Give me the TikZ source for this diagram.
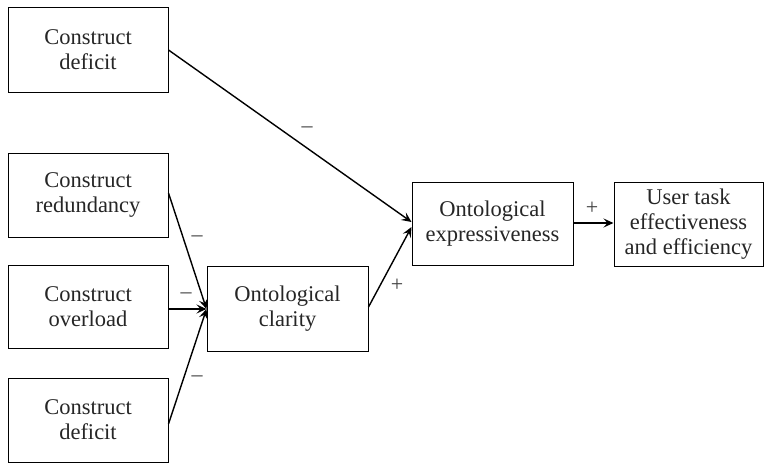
\documentclass[tikz,border=0pt]{standalone}
\usepackage{fontspec}
\setmainfont{Liberation Serif}
\usetikzlibrary{arrows.meta,calc}
\begin{document}
\begin{tikzpicture}[x=1pt,y=-1pt,
  box/.style={draw, line width=1pt, inner sep=0pt, align=center,
    font=\fontsize{22.5}{25}\selectfont, text=black!85},
  link/.style={line width=1.4pt, -{Stealth[length=10pt,width=9pt,inset=4pt]}},
  sign/.style={font=\fontsize{22}{22}\selectfont, text=black!75, inner sep=0pt}]
\useasboundingbox (0,0) rectangle (766,463);

% factor boxes
\node[box, minimum width=160, minimum height=85] (d1)   at (88,49.5)   {Construct\\deficit};
\node[box, minimum width=160, minimum height=84] (red)  at (88,195)    {Construct\\redundancy};
\node[box, minimum width=160, minimum height=83] (over) at (88,306.5)  {Construct\\overload};
\node[box, minimum width=160, minimum height=84] (d2)   at (88,420)    {Construct\\deficit};
\node[box, minimum width=161, minimum height=85] (clar) at (287.5,308.5) {Ontological\\clarity};
\node[box, minimum width=161, minimum height=83] (expr) at (492.5,223.5) {Ontological\\expressiveness};
\node[box, minimum width=149, minimum height=84] (user) at (688.5,224)  {User task\\effectiveness\\and efficiency};

% end points on box edges
\coordinate (e1) at ($(expr.west)+(0,-1.5)$);
\coordinate (e2) at ($(expr.west)+(0,3.5)$);
\coordinate (c0) at ($(clar.west)+(0,0.5)$);

% connectors
\draw[link] ($(d1.east)+(0,0.5)$) -- (e1);
\draw[link] ($(red.east)+(0,-2)$) -- (c0);
\draw[link] ($(over.east)+(0,2.5)$) -- (c0);
\draw[link] ($(d2.east)+(0,4)$) -- (c0);
\draw[link] ($(clar.east)+(0,-1.5)$) -- (e2);
\draw[link] ($(expr.east)+(0,-0.5)$) -- ($(user.west)+(0,-1)$);

% signs
\node[sign] (s1) at (307,130) {–};
\node[sign] (s2) at (197,239) {–};
\node[sign] (s3) at (186,296) {–};
\node[sign] (s4) at (197,379) {–};
\node[sign] (s5) at (397,285) {+};
\node[sign] (s6) at (592,208) {+};
\end{tikzpicture}
\end{document}
